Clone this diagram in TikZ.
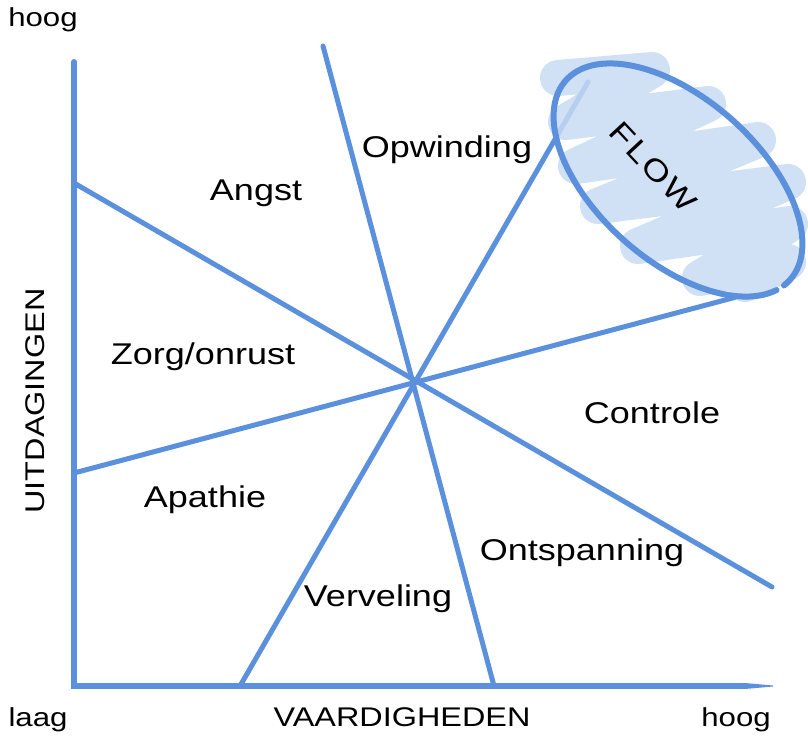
\documentclass[tikz,border=0pt]{standalone}
\usepackage{fontspec}
\setmainfont[FakeStretch=1.2]{Liberation Sans}
\definecolor{axisblue}{RGB}{91,144,220}
\definecolor{flowfill}{RGB}{200,218,243}
\begin{document}
\begin{tikzpicture}[x=1pt,y=-1pt,
  axisline/.style={draw=axisblue, line width=6pt, line cap=round},
  zoneline/.style={draw=axisblue, line width=5pt, line cap=round},
  zonelabel/.style={font=\fontsize{30}{36}\selectfont, text=black, inner sep=0pt},
  axislabel/.style={font=\fontsize{27}{32}\selectfont, text=black, inner sep=0pt},
  endlabel/.style={font=\fontsize{26}{31}\selectfont, text=black, inner sep=0pt}]
\useasboundingbox (0,0) rectangle (808,740);

% axes
\coordinate (origin) at (74,686);
\coordinate (ytop) at (74,62);
\coordinate (xend) at (773,686);
\draw[axisline] (origin) -- (ytop);
\draw[axisline, line cap=butt] (71,686) -- (745,686);
\fill[axisblue] (745,683) -- (773,685.5) -- (773,686.5) -- (745,689) -- cycle;

% four lines crossing in one point
\coordinate (c) at (412,382);
\coordinate (l1a) at (74,183);
\coordinate (l1b) at (772,587);
\coordinate (l2a) at (74,473);
\coordinate (l2b) at (740,296);
\coordinate (l3a) at (323,46);
\coordinate (l3b) at (494,686);
\coordinate (l4a) at (240,686);
\coordinate (l4b) at (588,82);
\draw[zoneline] (l1a) -- (l1b);
\draw[zoneline] (l2a) -- (l2b);
\draw[zoneline] (l3a) -- (l3b);
\draw[zoneline] (l4a) -- (l4b);

% scribbled fill of the flow zone
\draw[flowfill, line width=36pt, line join=round, line cap=round, opacity=0.85]
  (558,78) -- (652,70) -- (566,122) -- (708,104) -- (576,166) -- (758,140)
  -- (598,206) -- (788,182) -- (638,246) -- (790,224) -- (700,278)
  -- (788,262) -- (745,284);

% ellipse around the flow zone
\draw[axisblue, line width=6pt, line cap=round]
  plot[domain=12:366, samples=120, smooth]
  ({678 + 150*cos(\x)*0.748 - 81*sin(\x)*0.664},
   {180 + 150*cos(\x)*0.664 + 81*sin(\x)*0.748});

% zone labels
\node[zonelabel] (opw) at (447,150) {Opwinding};
\node[zonelabel] (angst) at (256,193) {Angst};
\node[zonelabel] (zorg) at (203,357) {Zorg/onrust};
\node[zonelabel] (contr) at (652,413) {Controle};
\node[zonelabel] (apath) at (205,500) {Apathie};
\node[zonelabel] (ontsp) at (582,553) {Ontspanning};
\node[zonelabel] (verv) at (378,599) {Verveling};
\node[zonelabel, rotate=-47] (flow) at (653,167) {\addfontfeature{LetterSpace=8}FLOW};

% axis labels
\node[endlabel] (yhigh) at (43,20) {hoog};
\node[endlabel] (xlow) at (38,720) {laag};
\node[endlabel] (xhigh) at (736,720) {hoog};
\node[axislabel] (xname) at (402,717) {VAARDIGHEDEN};
\node[axislabel, rotate=90] (yname) at (35,401) {UITDAGINGEN};
\end{tikzpicture}
\end{document}
